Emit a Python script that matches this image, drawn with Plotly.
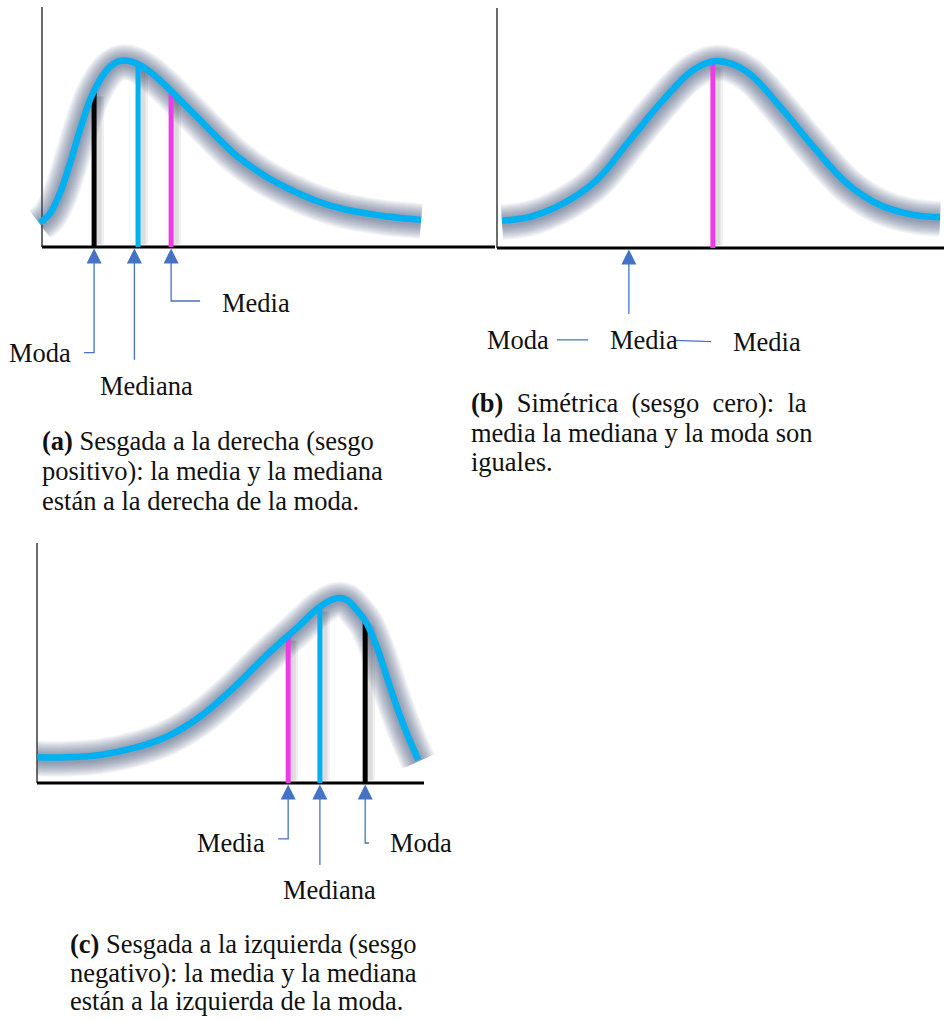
import numpy as np
import plotly.graph_objects as go

# ---------------------------------------------------------------------------
# Curve samples (x position, relative frequency) for the three distributions
# ---------------------------------------------------------------------------
# (a) right-skewed
der_x = [-0.044, 0.177, 0.397, 0.618, 0.839, 1.060, 1.280, 1.501, 1.722, 2.015,
         2.384, 2.753, 3.119, 3.488, 3.857, 4.223, 4.592, 4.960, 5.327, 5.695,
         6.064, 6.430, 6.799, 7.168, 7.534, 7.903, 8.366]
der_y = [0.101, 0.140, 0.224, 0.349, 0.488, 0.613, 0.696, 0.751, 0.775, 0.770,
         0.730, 0.668, 0.599, 0.529, 0.458, 0.392, 0.338, 0.292, 0.254, 0.221,
         0.192, 0.169, 0.152, 0.140, 0.129, 0.121, 0.113]

# (b) symmetric
sim_x = [0.112, 0.738, 1.483, 2.230, 2.975, 3.720, 4.391, 4.928, 5.586, 6.331,
         7.076, 7.823, 8.568, 9.313, 9.911]
sim_y = [0.114, 0.130, 0.186, 0.283, 0.450, 0.617, 0.742, 0.779, 0.735, 0.589,
         0.422, 0.270, 0.179, 0.138, 0.128]

# (c) left-skewed
izq_x = [0.008, 0.767, 1.628, 2.488, 3.351, 4.212, 5.072, 5.935, 6.796, 7.313,
         7.744, 8.003, 8.261, 8.519, 8.778, 9.036, 9.295, 9.553, 9.853]
izq_y = [0.107, 0.107, 0.117, 0.145, 0.193, 0.276, 0.395, 0.533, 0.658, 0.735,
         0.770, 0.763, 0.721, 0.665, 0.568, 0.443, 0.318, 0.207, 0.096]

# Central-tendency measures on each x axis
der_moda, der_mediana, der_media = 1.15, 2.12, 2.85
sim_centro = 4.83          # mean = median = mode
sim_flecha = 2.95          # where the single pointer of panel (b) sits
izq_media, izq_mediana, izq_moda = 6.49, 7.31, 8.48

# Text
etiquetas_der = ["Moda", "Mediana", "Media"]
etiquetas_sim = ["Moda", "Media", "Media"]
etiquetas_izq = ["Media", "Mediana", "Moda"]

NB = "\u00a0"
pie_der = ["<b>(a)</b> Sesgada a la derecha (sesgo",
           "positivo): la media y la mediana",
           "están a la derecha de la moda."]
pie_sim = ["<b>(b)</b>" + NB + " Simétrica" + NB + " (sesgo" + NB + " cero):" + NB + " la",
           "media la mediana y la moda son",
           "iguales."]
pie_izq = ["<b>(c)</b> Sesgada a la izquierda (sesgo",
           "negativo): la media y la mediana",
           "están a la izquierda de la moda."]

# ---------------------------------------------------------------------------
# Styling / geometry
# ---------------------------------------------------------------------------
W, H = 944, 1021
FONT = "Liberation Serif, Times New Roman, serif"
FSIZE = 26.5
CYAN = "#00B0F0"
MAGENTA = "#EE3BE5"
BLACK = "#000000"
ARROW = "#4472C4"
GLOW = "rgba(72,86,122,0.055)"
GLOW_WIDTHS = list(range(36, 7, -2))
YPX = 240.0  # pixels per unit of relative frequency

# origin of each panel's axes in pixels, px per x unit, and the plotting box
PANELS = {
    "x":  dict(ox=42,  oy=247, sx=45.3, box=(0, 496, 0, 410)),
    "x2": dict(ox=497, oy=248, sx=44.7, box=(484, 944, 0, 360)),
    "x3": dict(ox=37,  oy=783, sx=38.7, box=(0, 470, 530, 910)),
}

fig = go.Figure()
layout_axes = {}
for xa, p in PANELS.items():
    x0, x1, y0, y1 = p["box"]
    ya = xa.replace("x", "y")
    layout_axes["xaxis" + xa[1:]] = dict(
        domain=[x0 / W, x1 / W],
        range=[(x0 - p["ox"]) / p["sx"], (x1 - p["ox"]) / p["sx"]],
        visible=False, anchor=ya, fixedrange=True)
    layout_axes["yaxis" + ya[1:]] = dict(
        domain=[1 - y1 / H, 1 - y0 / H],
        range=[(p["oy"] - y1) / YPX, (p["oy"] - y0) / YPX],
        visible=False, anchor=xa, fixedrange=True)


def line(xs, ys, color, width, xa, shape="linear"):
    ya = xa.replace("x", "y")
    fig.add_trace(go.Scatter(x=xs, y=ys, mode="lines",
                             line=dict(color=color, width=width, shape=shape),
                             xaxis=xa, yaxis=ya, hoverinfo="skip"))


def ejes(xa):
    line([0, 0], [0, 1.0], "#3a3a3a", 1.5, xa)
    line([0, 10.0], [0, 0], BLACK, 3, xa)


def halo(xs, ys, xa):
    # soft blurred halo: many stacked translucent strokes, slightly lowered
    drop = 1.5 / YPX
    ys_d = [v - drop for v in ys]
    for w in GLOW_WIDTHS:
        line(xs, ys_d, GLOW, w, xa, shape="spline")


def medida(xv, xs, ys, color, xa):
    h = float(np.interp(xv, xs, ys))
    dx = 5 / PANELS[xa]["sx"]
    line([xv + dx, xv + dx], [0.01, h - 0.02], "rgba(0,0,0,0.06)", 10, xa)
    line([xv + dx, xv + dx], [0.01, h - 0.02], "rgba(0,0,0,0.08)", 5, xa)
    line([xv, xv], [0, h], color, 5, xa)


def curva(xs, ys, xa):
    line(xs, ys, CYAN, 6.5, xa, shape="spline")


def flecha(xv, xa):
    ya = xa.replace("x", "y")
    fig.add_trace(go.Scatter(x=[xv], y=[-0.006], mode="markers",
                             marker=dict(symbol="arrow-up", size=15, color=ARROW,
                                         line=dict(width=0)),
                             xaxis=xa, yaxis=ya, hoverinfo="skip"))


def conector(xs, ys, xa):
    line(xs, ys, ARROW, 1.3, xa)


def rotulo(text, x, y, xa, anchor):
    fig.add_annotation(text=text, x=x, y=y, xref=xa, yref=xa.replace("x", "y"),
                       xanchor=anchor, yanchor="middle", showarrow=False,
                       font=dict(family=FONT, size=FSIZE, color="#111111"))


# ---------------- (a) right-skewed ----------------
ejes("x")
halo(der_x, der_y, "x")
medida(der_moda, der_x, der_y, BLACK, "x")
medida(der_mediana, der_x, der_y, CYAN, "x")
medida(der_media, der_x, der_y, MAGENTA, "x")
curva(der_x, der_y, "x")
conector([der_moda, der_moda, 0.93], [-0.05, -0.44, -0.44], "x")
conector([der_mediana - 0.08, der_mediana - 0.08], [-0.05, -0.47], "x")
conector([der_media, der_media, 3.49], [-0.05, -0.225, -0.225], "x")
flecha(der_moda, "x")
flecha(der_mediana - 0.08, "x")
flecha(der_media, "x")
rotulo(etiquetas_der[0], 0.68, -0.44, "x", "right")
rotulo(etiquetas_der[1], 2.31, -0.58, "x", "center")
rotulo(etiquetas_der[2], 3.93, -0.235, "x", "left")

# ---------------- (b) symmetric ----------------
ejes("x2")
halo(sim_x, sim_y, "x2")
medida(sim_centro, sim_x, sim_y, MAGENTA, "x2")
curva(sim_x, sim_y, "x2")
conector([sim_flecha, sim_flecha], [-0.05, -0.275], "x2")
conector([1.34, 2.04], [-0.383, -0.383], "x2")
conector([3.98, 4.79], [-0.385, -0.39], "x2")
flecha(sim_flecha, "x2")
rotulo(etiquetas_sim[0], 1.21, -0.383, "x2", "right")
rotulo(etiquetas_sim[1], 2.48, -0.383, "x2", "left")
rotulo(etiquetas_sim[2], 5.23, -0.39, "x2", "left")

# ---------------- (c) left-skewed ----------------
ejes("x3")
halo(izq_x, izq_y, "x3")
medida(izq_media, izq_x, izq_y, MAGENTA, "x3")
medida(izq_mediana, izq_x, izq_y, CYAN, "x3")
medida(izq_moda, izq_x, izq_y, BLACK, "x3")
curva(izq_x, izq_y, "x3")
conector([izq_media, izq_media, 6.23], [-0.05, -0.233, -0.233], "x3")
conector([izq_mediana, izq_mediana], [-0.05, -0.342], "x3")
conector([izq_moda, izq_moda, 8.58], [-0.05, -0.25, -0.25], "x3")
flecha(izq_media, "x3")
flecha(izq_mediana, "x3")
flecha(izq_moda, "x3")
rotulo(etiquetas_izq[0], 5.94, -0.25, "x3", "right")
rotulo(etiquetas_izq[1], 7.55, -0.446, "x3", "center")
rotulo(etiquetas_izq[2], 9.07, -0.25, "x3", "left")


# ---------------- captions ----------------
def pie(lines, left_px, centers_px):
    for t, cy in zip(lines, centers_px):
        fig.add_annotation(text=t, x=left_px / W, y=1 - cy / H, xref="paper", yref="paper",
                           xanchor="left", yanchor="middle", showarrow=False,
                           font=dict(family=FONT, size=FSIZE, color="#111111"))


pie(pie_der, 40, [441, 471, 501])
pie(pie_sim, 469, [403, 433, 462])
pie(pie_izq, 68, [944, 973, 1001])

fig.update_layout(width=W, height=H, autosize=False,
                  margin=dict(l=0, r=0, t=0, b=0),
                  paper_bgcolor="white", plot_bgcolor="rgba(0,0,0,0)",
                  showlegend=False, **layout_axes)

fig.write_html("out.html")
